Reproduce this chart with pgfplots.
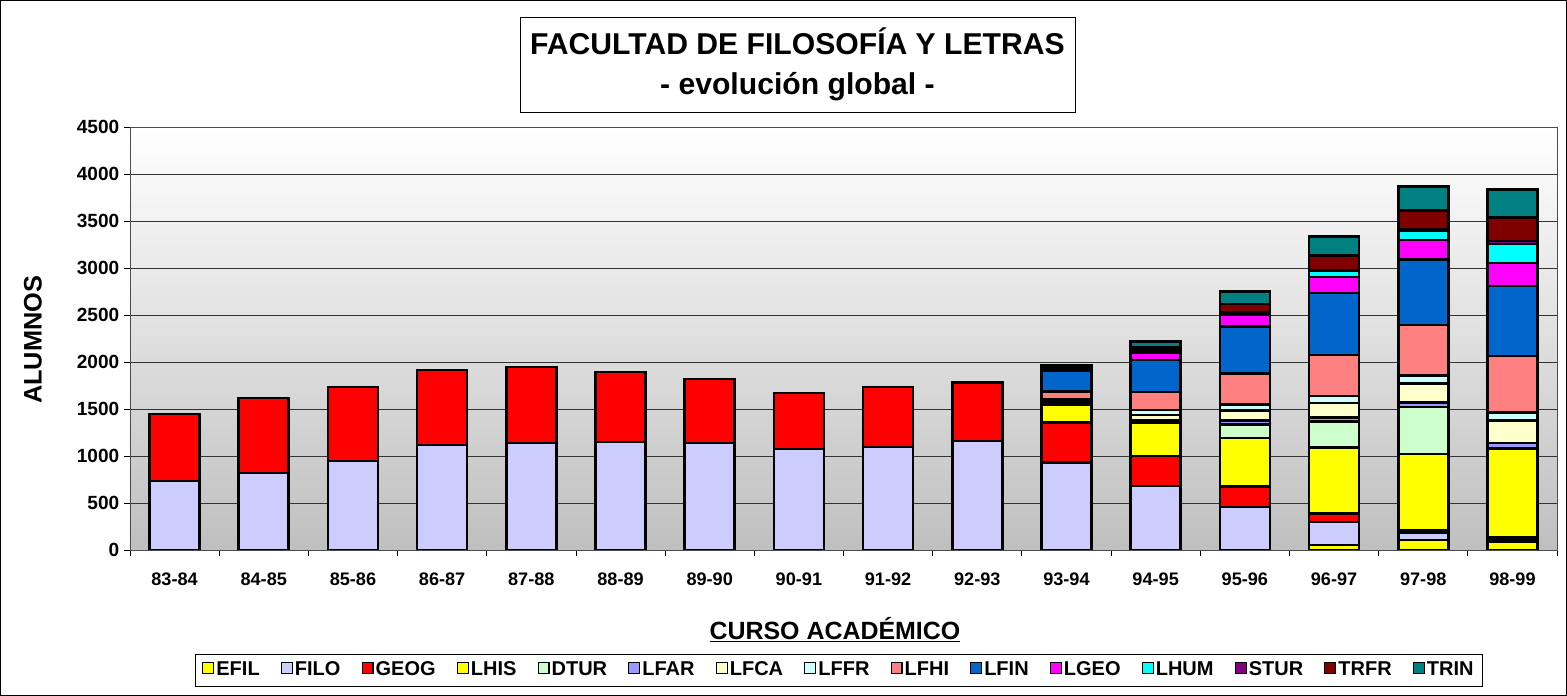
\documentclass[border=0pt]{standalone}
\usepackage{pgfplots}
\pgfplotsset{compat=1.18}
\usepackage{fontspec}
\setmainfont{Liberation Sans}
\definecolor{cEFIL}{HTML}{FFFF00}
\definecolor{cFILO}{HTML}{CCCCFF}
\definecolor{cGEOG}{HTML}{FF0000}
\definecolor{cLHIS}{HTML}{FFFF00}
\definecolor{cDTUR}{HTML}{CCFFCC}
\definecolor{cLFAR}{HTML}{9999FF}
\definecolor{cLFCA}{HTML}{FFFFCC}
\definecolor{cLFFR}{HTML}{CCFFFF}
\definecolor{cLFHI}{HTML}{FF8080}
\definecolor{cLFIN}{HTML}{0066CC}
\definecolor{cLGEO}{HTML}{FF00FF}
\definecolor{cLHUM}{HTML}{00FFFF}
\definecolor{cSTUR}{HTML}{800080}
\definecolor{cTRFR}{HTML}{800000}
\definecolor{cTRIN}{HTML}{008080}
\pgfplotsset{legsq/.style={legend image code/.code={\draw[##1,draw=black,line width=0.9pt] (0pt,-2.6pt) rectangle (8.2pt,5.6pt);}}}
\begin{document}
\begin{tikzpicture}
\draw[black, line width=0.75pt] (0.4pt,0.4pt) rectangle (1174.85pt,521.6pt);
\node[draw=black, line width=0.6pt, fill=white, minimum width=416.25pt, minimum height=71.25pt, align=center,
      font=\bfseries\fontsize{22.6}{29.5}\selectfont] at (598.1pt,473.6pt)
      {FACULTAD DE FILOSOFÍA Y LETRAS\\- evolución global -};
\begin{axis}[
  at={(97.5pt,109.5pt)}, anchor=south west,
  scale only axis, width=1070.25pt, height=317.25pt,
  ybar stacked, bar width=37.5pt,
  xmin=-0.5, xmax=15.5, ymin=0, ymax=4500,
  ytick={0,500,...,4500},
  xtick={0,...,15},
  xticklabels={83-84,84-85,85-86,86-87,87-88,88-89,89-90,90-91,91-92,92-93,93-94,94-95,95-96,96-97,97-98,98-99},
  minor xtick={-0.5,0.5,...,15.5},
  tick align=outside,
  major tick length=4.5pt, minor tick length=4.5pt,
  x tick style={draw=none},
  minor x tick style={draw=black, line width=0.6pt},
  y tick style={black, line width=0.6pt},
  tick pos=left,
  /pgf/number format/assume math mode=true,
  /pgf/number format/1000 sep={},
  xticklabel style={yshift=-9pt, font=\bfseries\fontsize{13.6}{16}\selectfont},
  yticklabel style={font=\bfseries\fontsize{14.3}{16}\selectfont},
  ymajorgrids,
  major grid style={black!80, line width=0.6pt},
  axis line style={black!70, line width=0.7pt},
  axis background/.style={top color=white, bottom color=black!25},
  xlabel={\underline{CURSO ACADÉMICO}},
  xlabel style={at={(axis description cs:0.494,-0.189)}, anchor=center, font=\bfseries\fontsize{18.7}{22}\selectfont},
  ylabel={ALUMNOS},
  ylabel style={at={(axis description cs:-0.068,0.4965)}, anchor=center, font=\bfseries\fontsize{19}{22}\selectfont},
  legend style={at={(axis description cs:0.4968,-0.2837)}, anchor=center, legend columns=-1,
     draw=black, line width=0.6pt, font=\bfseries\fontsize{15}{17}\selectfont,
     inner ysep=4pt, inner xsep=5pt,
     nodes={inner xsep=1.5pt},
     /tikz/every even column/.append style={column sep=14.3pt}},
  every axis plot/.append style={draw=black, line width=1.9pt},
]
\addplot[fill=cEFIL, legsq] coordinates {(0,0)(1,0)(2,0)(3,0)(4,0)(5,0)(6,0)(7,0)(8,0)(9,0)(10,0)(11,0)(12,0)(13,55)(14,105)(15,90)};
\addplot[fill=cFILO, legsq] coordinates {(0,733)(1,819)(2,945)(3,1117)(4,1138)(5,1149)(6,1138)(7,1074)(8,1096)(9,1158)(10,930)(11,680)(12,455)(13,245)(14,80)(15,30)};
\addplot[fill=cGEOG, legsq] coordinates {(0,713)(1,798)(2,787)(3,798)(4,809)(5,745)(6,681)(7,596)(8,636)(9,625)(10,425)(11,320)(12,220)(13,90)(14,25)(15,20)};
\addplot[fill=cLHIS, legsq] coordinates {(0,0)(1,0)(2,0)(3,0)(4,0)(5,0)(6,0)(7,0)(8,0)(9,0)(10,190)(11,350)(12,515)(13,700)(14,810)(15,940)};
\addplot[fill=cDTUR, legsq] coordinates {(0,0)(1,0)(2,0)(3,0)(4,0)(5,0)(6,0)(7,0)(8,0)(9,0)(10,10)(11,15)(12,145)(13,275)(14,500)(15,0)};
\addplot[fill=cLFAR, legsq] coordinates {(0,0)(1,0)(2,0)(3,0)(4,0)(5,0)(6,0)(7,0)(8,0)(9,0)(10,10)(11,20)(12,45)(13,45)(14,50)(15,60)};
\addplot[fill=cLFCA, legsq] coordinates {(0,0)(1,0)(2,0)(3,0)(4,0)(5,0)(6,0)(7,0)(8,0)(9,0)(10,20)(11,50)(12,105)(13,155)(14,200)(15,235)};
\addplot[fill=cLFFR, legsq] coordinates {(0,0)(1,0)(2,0)(3,0)(4,0)(5,0)(6,0)(7,0)(8,0)(9,0)(10,20)(11,55)(12,65)(13,75)(14,85)(15,85)};
\addplot[fill=cLFHI, legsq] coordinates {(0,0)(1,0)(2,0)(3,0)(4,0)(5,0)(6,0)(7,0)(8,0)(9,0)(10,80)(11,190)(12,330)(13,435)(14,540)(15,605)};
\addplot[fill=cLFIN, legsq] coordinates {(0,0)(1,0)(2,0)(3,0)(4,0)(5,0)(6,0)(7,0)(8,0)(9,0)(10,225)(11,340)(12,495)(13,660)(14,695)(15,745)};
\addplot[fill=cLGEO, legsq] coordinates {(0,0)(1,0)(2,0)(3,0)(4,0)(5,0)(6,0)(7,0)(8,0)(9,0)(10,10)(11,80)(12,130)(13,170)(14,210)(15,245)};
\addplot[fill=cLHUM, legsq] coordinates {(0,0)(1,0)(2,0)(3,0)(4,0)(5,0)(6,0)(7,0)(8,0)(9,0)(10,5)(11,10)(12,10)(13,65)(14,100)(15,200)};
\addplot[fill=cSTUR, legsq] coordinates {(0,0)(1,0)(2,0)(3,0)(4,0)(5,0)(6,0)(7,0)(8,0)(9,0)(10,20)(11,15)(12,15)(13,10)(14,10)(15,30)};
\addplot[fill=cTRFR, legsq] coordinates {(0,0)(1,0)(2,0)(3,0)(4,0)(5,0)(6,0)(7,0)(8,0)(9,0)(10,10)(11,30)(12,85)(13,150)(14,200)(15,250)};
\addplot[fill=cTRIN, legsq] coordinates {(0,0)(1,0)(2,0)(3,0)(4,0)(5,0)(6,0)(7,0)(8,0)(9,0)(10,5)(11,65)(12,135)(13,205)(14,255)(15,300)};
\legend{EFIL,FILO,GEOG,LHIS,DTUR,LFAR,LFCA,LFFR,LFHI,LFIN,LGEO,LHUM,STUR,TRFR,TRIN}
\end{axis}
\end{tikzpicture}
\end{document}
